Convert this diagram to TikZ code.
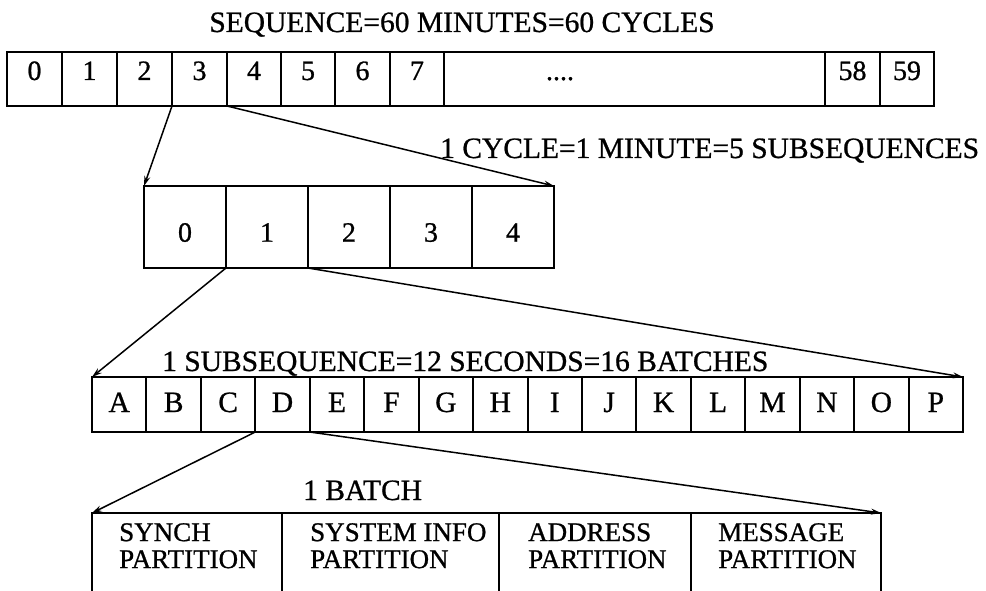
\documentclass[tikz,border=0pt]{standalone}
\usepackage{fontspec}
\setmainfont{Liberation Serif}[FakeBold=0.8]
\usetikzlibrary{arrows.meta,calc}
\tikzset{
  box/.style={draw, line width=2pt, inner sep=0pt, outer sep=0pt, anchor=north west},
  rowA/.style={box, minimum height=54pt, text height=20pt, text depth=18pt, font=\fontsize{28}{30}\selectfont},
  rowB/.style={box, minimum height=82pt, minimum width=82pt, text height=30pt, text depth=0.6pt, font=\fontsize{28}{30}\selectfont},
  rowC/.style={box, minimum height=55pt, minimum width=54.44pt, text height=20pt, text depth=5pt, font=\fontsize{29.5}{30}\selectfont},
  rowD/.style={box, minimum height=110pt},
  parttext/.style={anchor=north west, inner sep=0pt, align=left, font=\fontsize{27}{27}\selectfont},
  caption/.style={anchor=base west, inner sep=0pt, font=\fontsize{29.5}{30}\selectfont},
  arr/.style={line width=1.5pt, -{Stealth[length=10pt,width=6pt]}}
}
\begin{document}
\begin{tikzpicture}[x=1pt,y=-1pt]
\useasboundingbox (0,0) rectangle (986,591);
\clip (0,0) rectangle (986,591);
\fill[white] (0,0) rectangle (986,591);

% captions
\node[caption, anchor=base] (cap1) at (462,32) {SEQUENCE=60 MINUTES=60 CYCLES};
\node[caption] (cap2) at (440,158) {1 CYCLE=1 MINUTE=5 SUBSEQUENCES};
\node[caption] (cap3) at (162,371) {1 SUBSEQUENCE=12 SECONDS=16 BATCHES};
\node[caption] (cap4) at (303,500) {1 BATCH};

% row 1: cycles
\node[rowA, minimum width=55pt] (t0) at (7,52) {0};
\node[rowA, minimum width=55pt] (t1) at (62,52) {1};
\node[rowA, minimum width=55pt] (t2) at (117,52) {2};
\node[rowA, minimum width=55pt] (t3) at (172,52) {3};
\node[rowA, minimum width=54pt] (t4) at (227,52) {4};
\node[rowA, minimum width=54pt] (t5) at (281,52) {5};
\node[rowA, minimum width=55pt] (t6) at (335,52) {6};
\node[rowA, minimum width=54pt] (t7) at (390,52) {7};
\node[rowA, minimum width=381pt] (tdots) at (444,52) {};
\node[rowA, anchor=base, inner sep=0pt, draw=none, minimum width=0pt, minimum height=0pt, text height=, text depth=] (dots) at (560,80) {....};
\node[rowA, minimum width=55pt] (t58) at (825,52) {58};
\node[rowA, minimum width=54pt] (t59) at (880,52) {59};

% row 2: subsequences
\node[rowB] (s0) at (144,186) {0};
\node[rowB] (s1) at (226,186) {1};
\node[rowB] (s2) at (308,186) {2};
\node[rowB] (s3) at (390,186) {3};
\node[rowB] (s4) at (472,186) {4};

% row 3: batches
\foreach \l [count=\i from 0] in {A,B,C,D,E,F,G,H,I,J,K,L,M,N,O,P}
  \node[rowC] (b\i) at ({92+\i*54.44},377) {\l};

% row 4: partitions
\node[rowD, minimum width=190pt] (p0) at (92,513) {};
\node[rowD, minimum width=217pt] (p1) at (282,513) {};
\node[rowD, minimum width=192pt] (p2) at (499,513) {};
\node[rowD, minimum width=190pt] (p3) at (691,513) {};
\node[parttext] (p0t) at ($(p0.north west)+(27,10)$) {SYNCH\\PARTITION};
\node[parttext] (p1t) at ($(p1.north west)+(28,10)$) {SYSTEM INFO\\PARTITION};
\node[parttext] (p2t) at ($(p2.north west)+(29,10)$) {ADDRESS\\PARTITION};
\node[parttext] (p3t) at ($(p3.north west)+(27,10)$) {MESSAGE\\PARTITION};

% connectors
\draw[arr] (t3.south west) -- (s0.north west);
\draw[arr] (t3.south east) -- (s4.north east);
\draw[arr] (s1.south west) -- (b0.north west);
\draw[arr] (s1.south east) -- (b15.north east);
\draw[arr] (b3.south west) -- (p0.north west);
\draw[arr] (b3.south east) -- (p3.north east);
\end{tikzpicture}
\end{document}
